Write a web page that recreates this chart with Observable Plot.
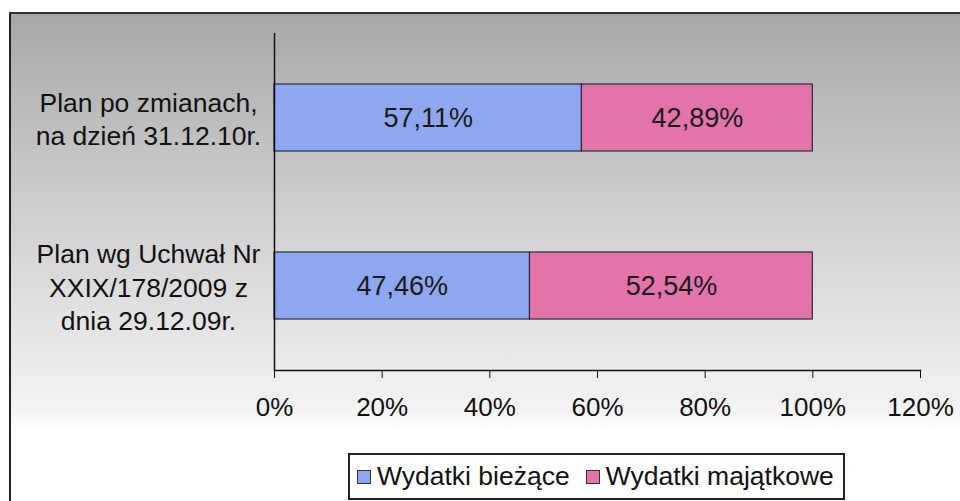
<!DOCTYPE html>
<html>
<head>
<meta charset="utf-8">
<script src="https://cdn.jsdelivr.net/npm/d3@7"></script>
<script src="https://cdn.jsdelivr.net/npm/@observablehq/plot@0.6"></script>
<style>
  html, body { margin: 0; padding: 0; background: #fff; }
  #wrap { position: relative; width: 960px; height: 501px; overflow: hidden; font-family: "Liberation Sans", Arial, sans-serif; }
  #bg { position: absolute; left: 9px; top: 12px; right: -2px; bottom: -2px;
        border-left: 2px solid #222; border-top: 2px solid #333;
        background: linear-gradient(to bottom, #a6a8a8 0px, #cdcdcd 190px, #f2f2f2 390px, #ffffff 420px); }
  #chart { position: absolute; left: 0; top: 0; }
  #legend { position: absolute; left: 348px; top: 453px; width: 497px; height: 47px;
            border: 2px solid #222; background: #fff; display: flex; align-items: center;
            font-size: 26.5px; color: #111; padding-left: 7px; box-sizing: border-box;
            white-space: nowrap; overflow: visible; }
  .item { display: flex; align-items: center; margin-right: 16px; flex-shrink: 0; white-space: nowrap; }
  .sw { width: 14px; height: 14px; border: 1px solid #333; margin-right: 6px; box-sizing: border-box; flex-shrink: 0; }
</style>
</head>
<body>
<div id="wrap">
  <div id="bg"></div>
  <div id="chart"></div>
  <div id="legend"></div>
</div>
<script>
const categories = ["Plan po zmianach,\nna dzień 31.12.10r.", "Plan wg Uchwał Nr\nXXIX/178/2009 z\ndnia 29.12.09r."];
const series = ["Wydatki bieżące", "Wydatki majątkowe"];
const biezace = [57.11, 47.46];
const majatkowe = [42.89, 52.54];
const xTicks = [0, 20, 40, 60, 80, 100, 120];
const colors = ["#8fa7ee", "#e274aa"];

const table = [];
categories.forEach((c, i) => {
  table.push({cat: c, series: series[0], value: biezace[i]});
  table.push({cat: c, series: series[1], value: majatkowe[i]});
});
const fmt = v => v.toFixed(2).replace(".", ",") + "%";

const chart = Plot.plot({
  width: 960,
  height: 450,
  marginLeft: 274,
  marginRight: 40,
  marginTop: 33,
  marginBottom: 80,
  style: {background: "transparent", fontFamily: "'Liberation Sans', Arial, sans-serif", fontSize: "26px", color: "#000"},
  x: {domain: [0, 120], label: null},
  y: {domain: categories, paddingInner: 0.6, paddingOuter: 0.3, axis: null},
  color: {domain: series, range: colors},
  marks: [
    Plot.barX(table, Plot.stackX({x: "value", y: "cat", fill: "series", order: series, stroke: "#2a2a3a", strokeWidth: 1.2})),
    Plot.text(table, Plot.stackX({x: "value", y: "cat", z: "series", order: series, text: d => fmt(d.value), fill: "#1a1a1a", fontSize: 27})),
    Plot.text(categories, {y: d => d, text: d => d, frameAnchor: "left", dx: -126, textAnchor: "middle", lineAnchor: "middle", lineHeight: 1.25, fontSize: 26.5, fill: "#111"}),
    Plot.ruleX([0], {stroke: "#111", strokeWidth: 1.5}),
    Plot.frame({anchor: "bottom", stroke: "#111", strokeWidth: 1.5}),
    Plot.axisX({ticks: xTicks, tickSize: 8, tickPadding: 19, tickFormat: d => d + "%", fontSize: 26, stroke: "#111", fill: "#111", label: null})
  ]
});
document.getElementById("chart").appendChild(chart);

const legend = document.getElementById("legend");
series.forEach((s, i) => {
  const it = document.createElement("div");
  it.className = "item";
  const sw = document.createElement("div");
  sw.className = "sw";
  sw.style.background = colors[i];
  const t = document.createElement("span");
  t.textContent = s;
  it.appendChild(sw); it.appendChild(t);
  legend.appendChild(it);
});
</script>
</body>
</html>
